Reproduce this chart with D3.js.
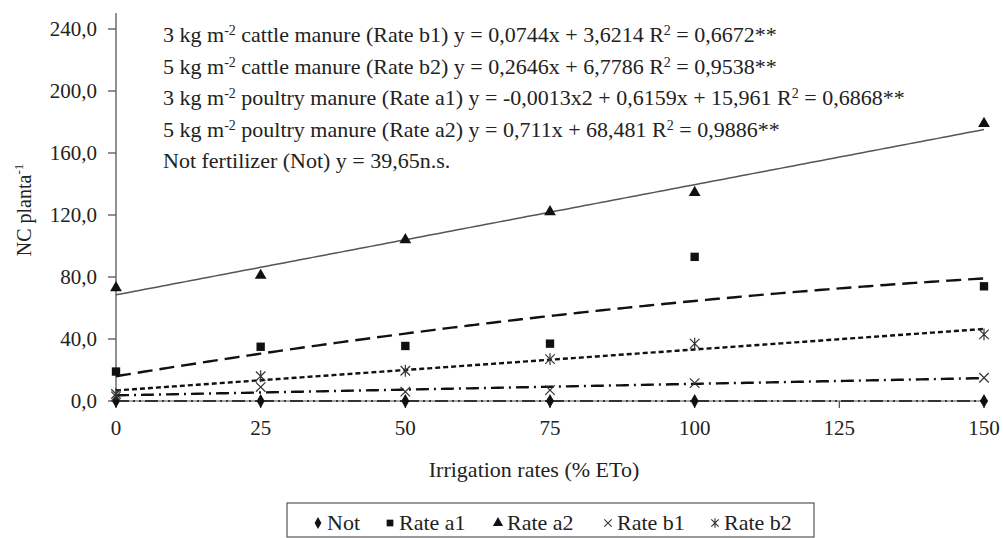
<!DOCTYPE html>
<html>
<head>
<meta charset="utf-8">
<script src="https://cdn.jsdelivr.net/npm/d3@7"></script>
<style>
  body { margin: 0; background: #fff; }
  svg { display: block; }
  svg text { font-family: 'Liberation Serif', 'Times New Roman', serif; }
</style>
</head>
<body>
<svg id="chart" width="1003" height="538"></svg>
<script>
// ---------- data ----------
const irrigation = [0, 25, 50, 75, 100, 150];
const seriesNames = ["Not", "Rate a1", "Rate a2", "Rate b1", "Rate b2"];
const notValues = [0, 0, 0, 0, 0, 0];
const rateA1 = [19, 35, 35.5, 37, 93, 74];
const rateA2 = [73, 81, 104, 122, 134.5, 179];
const rateB1 = [3, 9, 6, 7, 11.5, 15];
const rateB2 = [4.5, 16, 19.5, 27, 37, 43];
// trend-line coefficients shown in the chart equations (c2, c1, c0)
const trendNot = [0, 0, 0];
const trendA1 = [-0.0013, 0.6159, 15.961];
const trendA2 = [0, 0.711, 68.481];
const trendB1 = [0, 0.0744, 3.6214];
const trendB2 = [0, 0.2646, 6.7786];
const xTicks = [0, 25, 50, 75, 100, 125, 150];
const yTicks = [0, 40, 80, 120, 160, 200, 240];
const equationLines = [
  ["3 kg m", "-2", " cattle manure (Rate b1) y = 0,0744x + 3,6214 R", "2", " = 0,6672**"],
  ["5 kg m", "-2", " cattle manure (Rate b2) y = 0,2646x + 6,7786 R", "2", " = 0,9538**"],
  ["3 kg m", "-2", " poultry manure (Rate a1) y = -0,0013x2 + 0,6159x + 15,961 R", "2", " = 0,6868**"],
  ["5 kg m", "-2", " poultry manure (Rate a2) y = 0,711x + 68,481 R", "2", " = 0,9886**"],
  ["Not fertilizer (Not) y = 39,65n.s."]
];

// ---------- layout ----------
const svg = d3.select("#chart");
const x = d3.scaleLinear().domain([0, 150]).range([116, 984]);
const y = d3.scaleLinear().domain([0, 240]).range([401, 29]);
const fmtY = v => d3.format(".1f")(v).replace(".", ",");
const TXT = "#222";

// custom symbols
const symX = { draw(ctx, size) { const r = Math.sqrt(size) / 2; ctx.moveTo(-r, -r); ctx.lineTo(r, r); ctx.moveTo(-r, r); ctx.lineTo(r, -r); } };
const symAst = { draw(ctx, size) { const r = Math.sqrt(size) / 2; ctx.moveTo(-r, -r); ctx.lineTo(r, r); ctx.moveTo(-r, r); ctx.lineTo(r, -r); ctx.moveTo(0, -r * 1.25); ctx.lineTo(0, r * 1.25); } };

const series = [
  { name: "Not", values: notValues, trend: trendNot, sym: d3.symbolDiamond, size: 55, fill: true, dash: "13,4,2,4,2,4", width: 2.2, color: "#333" },
  { name: "Rate a1", values: rateA1, trend: trendA1, sym: d3.symbolSquare, size: 70, fill: true, dash: "15,7", width: 2.4, color: "#111" },
  { name: "Rate a2", values: rateA2, trend: trendA2, sym: d3.symbolTriangle, size: 60, fill: true, dash: null, width: 1.5, color: "#555" },
  { name: "Rate b1", values: rateB1, trend: trendB1, sym: symX, size: 90, fill: false, dash: "13,5,2,5", width: 2.4, color: "#111" },
  { name: "Rate b2", values: rateB2, trend: trendB2, sym: symAst, size: 90, fill: false, dash: "5,3", width: 2.4, color: "#111" }
];

// axes
const yAxis = svg.append("g").attr("transform", "translate(116,0)");
yAxis.append("line").attr("x1", 0).attr("x2", 0).attr("y1", 13).attr("y2", y(0)).attr("stroke", "#555").attr("stroke-width", 1.3);
yAxis.selectAll(".yt").data(yTicks).join("line")
  .attr("x1", -8).attr("x2", 0).attr("y1", d => y(d)).attr("y2", d => y(d)).attr("stroke", "#555").attr("stroke-width", 1.3);
yAxis.selectAll(".yl").data(yTicks).join("text")
  .attr("x", -19).attr("y", d => y(d)).attr("dy", "0.35em").attr("text-anchor", "end").attr("fill", TXT)
  .style("font-size", "21px").text(fmtY);

const xAxis = svg.append("g").attr("transform", `translate(0,${y(0)})`);
xAxis.append("line").attr("x1", x(0)).attr("x2", x(150) + 4).attr("y1", 0).attr("y2", 0).attr("stroke", "#8a8a8a").attr("stroke-width", 1.5);
xAxis.selectAll(".xt").data(xTicks).join("line")
  .attr("x1", d => x(d)).attr("x2", d => x(d)).attr("y1", 0).attr("y2", 7).attr("stroke", "#555").attr("stroke-width", 1.3);
xAxis.selectAll(".xl").data(xTicks).join("text")
  .attr("x", d => x(d)).attr("y", 34).attr("text-anchor", "middle").attr("fill", TXT)
  .style("font-size", "21px").text(d => d);

// axis titles
svg.append("text").attr("x", 534).attr("y", 477).attr("text-anchor", "middle").attr("fill", TXT).style("font-size", "22px")
  .text("Irrigation rates (% ETo)");
const yt = svg.append("text").attr("transform", "translate(31,210) rotate(-90)").attr("text-anchor", "middle").attr("fill", TXT).style("font-size", "20px");
yt.append("tspan").text("NC planta");
yt.append("tspan").attr("dy", -8).style("font-size", "13px").text("-1");

// trend lines
const xs = d3.range(0, 150.01, 1);
const line = d3.line().x(d => x(d[0])).y(d => y(d[1]));
series.forEach(s => {
  const pts = xs.map(v => [v, s.trend[0] * v * v + s.trend[1] * v + s.trend[2]]);
  svg.append("path").datum(pts).attr("d", line).attr("fill", "none")
    .attr("stroke", s.color).attr("stroke-width", s.width)
    .attr("stroke-dasharray", s.dash);
});

// markers
series.forEach(s => {
  svg.append("g").selectAll("path").data(irrigation.map((v, i) => [v, s.values[i]])).join("path")
    .attr("transform", d => `translate(${x(d[0])},${y(d[1])})`)
    .attr("d", d3.symbol().type(s.sym).size(s.size))
    .attr("fill", s.fill ? "#111" : "none")
    .attr("stroke", s.fill ? "none" : "#333").attr("stroke-width", 1.2);
});

// equations
const eq = svg.append("g").attr("fill", TXT);
equationLines.forEach((parts, i) => {
  const t = eq.append("text").attr("x", 163).attr("y", 42 + i * 31.5).style("font-size", "22px");
  parts.forEach((p, j) => {
    const sup = (parts.length > 1) && (j === 1 || j === 3);
    t.append("tspan").attr("baseline-shift", sup ? "super" : null)
      .style("font-size", sup ? "14px" : null).text(p);
  });
});

// legend
const lg = svg.append("g");
lg.append("rect").attr("x", 287).attr("y", 503).attr("width", 527).attr("height", 34)
  .attr("fill", "#fff").attr("stroke", "#555").attr("stroke-width", 1.2);
const legendX = [318, 390, 498, 608, 715];
const legendSizes = [40, 45, 45, 55, 55];
series.forEach((s, i) => {
  lg.append("path").attr("transform", `translate(${legendX[i]},${523})`)
    .attr("d", d3.symbol().type(s.sym).size(legendSizes[i]))
    .attr("fill", s.fill ? "#111" : "none")
    .attr("stroke", s.fill ? "none" : "#333").attr("stroke-width", 1.1);
  lg.append("text").attr("x", legendX[i] + 9).attr("y", 530).attr("fill", TXT).style("font-size", "22px").text(s.name);
});
</script>
</body>
</html>
